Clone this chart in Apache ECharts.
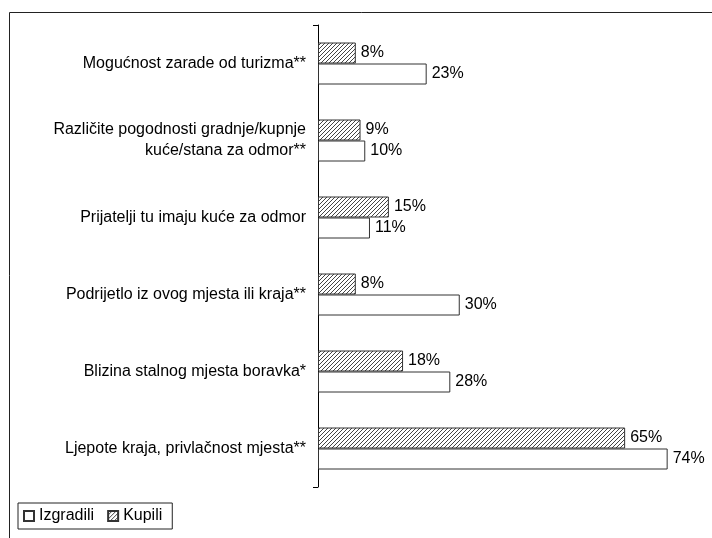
<!DOCTYPE html>
<html>
<head>
<meta charset="utf-8">
<script src="https://cdn.jsdelivr.net/npm/echarts@6/dist/echarts.min.js"></script>
<style>
    html, body { margin: 0; padding: 0; background: #fff; }
    #grafico { width: 712px; height: 538px; }
</style>
</head>
<body>
<div id="grafico"></div>
<script>
var categorias = [
    'Mogućnost zarade od turizma**',
    'Različite pogodnosti gradnje/kupnje\nkuće/stana za odmor**',
    'Prijatelji tu imaju kuće za odmor',
    'Podrijetlo iz ovog mjesta ili kraja**',
    'Blizina stalnog mjesta boravka*',
    'Ljepote kraja, privlačnost mjesta**'
];
var kupili = [8, 9, 15, 8, 18, 65];
var izgradili = [23, 10, 11, 30, 28, 74];

function crearRayado() {
    var c = document.createElement('canvas');
    c.width = 4;
    c.height = 4;
    var ctx = c.getContext('2d');
    ctx.fillStyle = '#fff';
    ctx.fillRect(0, 0, 4, 4);
    ctx.strokeStyle = '#444';
    ctx.lineWidth = 1;
    ctx.beginPath();
    ctx.moveTo(-1, 5);
    ctx.lineTo(5, -1);
    ctx.stroke();
    return c;
}

var fuente = '"Liberation Sans", Arial, sans-serif';
var chart = echarts.init(document.getElementById('grafico'));

chart.setOption({
    animation: false,
    textStyle: { fontFamily: fuente },
    graphic: [{
        type: 'rect',
        left: 7,
        top: 10,
        shape: { width: 760, height: 560 },
        style: { fill: 'none', stroke: '#222', lineWidth: 1 },
        silent: true
    }],
    legend: {
        data: ['Izgradili', 'Kupili'],
        left: 18,
        top: 503,
        orient: 'horizontal',
        icon: 'rect',
        itemWidth: 10,
        itemHeight: 10,
        itemGap: 13,
        padding: [5, 10, 5, 5],
        borderColor: '#222',
        borderWidth: 1,
        textStyle: { fontSize: 16, color: '#000', fontFamily: fuente }
    },
    grid: { left: 318, top: 25, right: 16, bottom: 51, containLabel: false },
    xAxis: {
        type: 'value',
        min: 0,
        max: 80,
        show: false
    },
    yAxis: {
        type: 'category',
        inverse: true,
        data: categorias,
        axisLine: { show: true, lineStyle: { color: '#000', width: 1 } },
        axisTick: {
            show: true,
            length: 5,
            interval: function (i) { return i === 0; },
            lineStyle: { color: '#000' }
        },
        axisLabel: {
            margin: 12,
            fontSize: 16,
            lineHeight: 21,
            color: '#000',
            fontFamily: fuente
        },
        splitLine: { show: false }
    },
    series: [{
        name: 'Kupili',
        type: 'bar',
        data: kupili,
        barWidth: 21,
        barGap: '0%',
        itemStyle: { color: { image: crearRayado(), repeat: 'repeat' }, borderColor: '#333', borderWidth: 1 },
        label: { show: true, position: 'right', distance: 5, formatter: '{c}%', fontSize: 16, color: '#000', fontFamily: fuente }
    }, {
        name: 'Izgradili',
        type: 'bar',
        data: izgradili,
        barWidth: 21,
        barGap: '0%',
        itemStyle: { color: '#fff', borderColor: '#333', borderWidth: 1 },
        label: { show: true, position: 'right', distance: 5, formatter: '{c}%', fontSize: 16, color: '#000', fontFamily: fuente }
    }]
});
</script>
</body>
</html>
